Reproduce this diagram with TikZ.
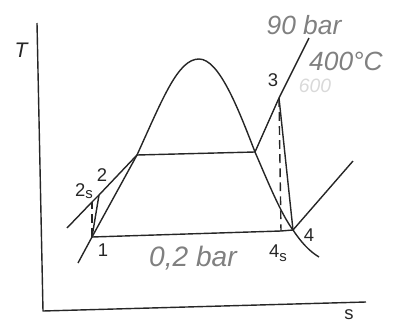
\documentclass[tikz,border=0pt]{standalone}
\usepackage{fontspec}
\setmainfont{Liberation Sans}
\usepackage{tikz}
\usetikzlibrary{positioning}
\tikzstyle{every node}=[inner sep=1pt]
\tikzstyle{line}=[draw=black!85, line width=0.8pt, line join=round]
\tikzstyle{isen}=[line, dashed, dash pattern=on 5pt off 3pt]
\tikzstyle{lbl}=[font=\fontsize{10.5}{12}\selectfont, text=black!85]
\tikzstyle{hand}=[font=\fontsize{15}{16}\selectfont\itshape, text=black!50]

\begin{document}
\begin{tikzpicture}[x=0.02cm, y=-0.02cm]
    \useasboundingbox (0,0) rectangle (393,325);
    % axes
    \coordinate (top) at (37,23);
    \coordinate (origin) at (43,311);
    \coordinate (right) at (366,302);
    \draw[line] (top) -- (origin) -- (right);
    \node[lbl, font=\fontsize{12}{14}\selectfont\itshape] (T) at (21,50) {T};
    \node[lbl, inner sep=0pt] (s) at (349,315) {s};

    % state points
    \coordinate (p1) at (92,237);
    \coordinate (p2s) at (92,202);
    \coordinate (p2) at (99,195);
    \coordinate (p3) at (279,98);
    \coordinate (p4s) at (281,231);
    \coordinate (p4) at (293,230);
    \coordinate (fl) at (137,155);
    \coordinate (vap) at (255,152);

    % saturation dome
    \draw[line] (78,263) -- (p1) -- (fl)
        .. controls (163,98) and (178,59) .. (199,59)
        .. controls (219,59) and (238,108) .. (vap)
        .. controls (268,182) and (281,214) .. (p4)
        .. controls (301,242) and (309,251) .. (319,257);

    % 90 bar isobar
    \draw[line] (67,228) -- (p2s) -- (p2) -- (fl) -- (vap) -- (p3) -- (309,38);
    % 0,2 bar isobar
    \draw[line] (p1) -- (p4s) -- (p4) -- (353,161);

    % pump and turbine
    \draw[line] (p1) -- (p2);
    \draw[isen] (p1) -- (p2s);
    \draw[line] (p3) -- (p4);
    \draw[isen] (p3) -- (p4s);

    % point labels
    \node[lbl] (l1) at (103,250) {1};
    \node[lbl] (l2) at (102,175) {2};
    \node[lbl] (l2s) at (84,191) {2\raisebox{-1.5pt}{\fontsize{8.5}{9}\selectfont s}};
    \node[lbl] (l3) at (273,80) {3};
    \node[lbl] (l4) at (309,235) {4};
    \node[lbl] (l4s) at (278,253) {4\raisebox{-2pt}{\fontsize{8.5}{9}\selectfont s}};

    % pressures and temperature
    \node[hand, font=\fontsize{16}{18}\selectfont\itshape] (plow) at (193,258) {0,2 bar};
    \node[hand] (phigh) at (304,25) {90 bar};
    \node[hand] (temp) at (346,61) {400°C};
    \node[hand, text=black!15, font=\fontsize{11}{12}\selectfont\itshape, inner sep=0pt] (old) at (315,86) {600};
\end{tikzpicture}
\end{document}
